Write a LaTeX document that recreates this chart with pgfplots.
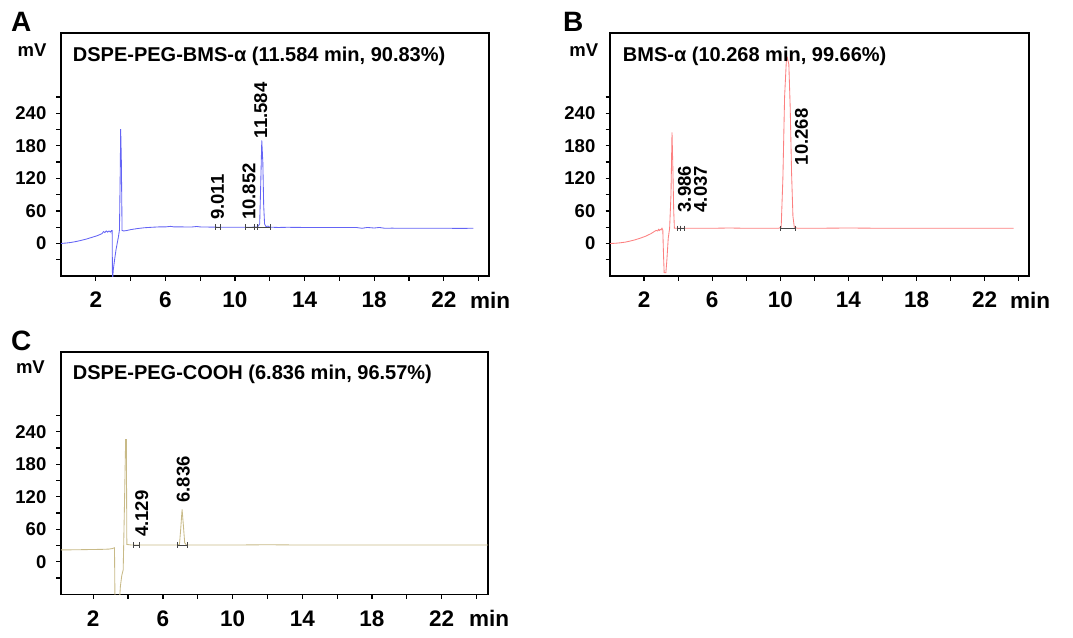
\documentclass[border=0pt]{standalone}
\usepackage{pgfplots}
\pgfplotsset{compat=1.18}
\usepackage{fontspec}
\setmainfont{Liberation Sans}
\definecolor{cA}{RGB}{100,100,245}
\definecolor{cB}{RGB}{252,128,128}
\definecolor{cC}{RGB}{200,186,135}
\definecolor{mk}{RGB}{70,70,70}
\pgfplotsset{
  chrom/.style={
    scale only axis, width=428pt, height=243pt,
    ymin=-60, ymax=388, xmin=0, xmax=24.6,
    xtick={2,6,...,22}, minor xtick={4,8,...,24},
    ytick={0,60,...,240}, minor ytick={-30,30,...,270},
    tick align=outside, xtick pos=bottom, ytick pos=left,
    major tick length=4.5pt, minor tick length=4.5pt,
    tick style={black, line width=1.2pt},
    axis line style={line width=1.6pt},
    /pgf/number format/assume math mode=true,
    xticklabel style={font=\fontsize{22.5}{24}\selectfont\bfseries, inner sep=0pt, text height=16pt, anchor=north, yshift=-11pt},
    yticklabel style={font=\fontsize{18.5}{20}\selectfont\bfseries, inner sep=0pt, anchor=east, xshift=-10pt},
    clip mode=individual,
  },
}
\tikzset{
  trace/.style={line width=0.85pt},
  integ/.style={mk, line width=0.9pt, mark=|, mark size=2.7pt, mark options={line width=0.9pt}},
  pk/.style={font=\fontsize{18.5}{20}\selectfont\bfseries, rotate=90, anchor=west, inner sep=0pt},
  ttl/.style={font=\fontsize{20}{22}\selectfont\bfseries, anchor=base west, inner sep=0pt},
  mv/.style={font=\fontsize{18.5}{20}\selectfont\bfseries, anchor=base east, inner sep=0pt},
  let/.style={font=\fontsize{28}{30}\selectfont\bfseries, anchor=base west, inner sep=0pt},
  minl/.style={font=\fontsize{22.5}{24}\selectfont\bfseries, anchor=north west, inner sep=0pt, text height=16pt},
}
\begin{document}
\begin{tikzpicture}
\useasboundingbox (0pt,0pt) rectangle (1073pt,-637pt);
% ---------- A ----------
\begin{axis}[chrom, at={(61pt,-276pt)}, anchor=south west]
\addplot[trace, cA] coordinates {
(0,0) (0.3,0.8) (0.6,2) (0.9,3.8) (1.2,6) (1.5,8.5) (1.8,11.5) (2.1,14.5) (2.35,18)
(2.45,22) (2.52,20) (2.6,23) (2.68,21) (2.76,23) (2.84,21) (2.9,24) (2.94,24)
(2.96,-75) (3.0,-50) (3.08,-30) (3.16,-12) (3.24,2) (3.3,12) (3.36,25) (3.40,120)
(3.43,211) (3.47,150) (3.51,24) (3.6,23) (3.8,24) (4.0,25.5) (4.4,27.5) (4.8,29)
(5.2,29.8) (5.6,30.5) (6.0,30.5) (6.3,31.5) (6.5,30.5) (7,30.5) (7.5,30.3) (7.8,31.3)
(8,30.5) (8.5,30.2) (9,30) (9.5,30) (10,30) (10.5,29.8) (11,30) (11.3,30.5) (11.42,36)
(11.48,110) (11.54,190) (11.60,150) (11.65,70) (11.70,36) (11.78,31) (11.9,32) (12.0,30)
(12.5,29.5) (13,29.8) (14,29.5) (15,29.5) (16,29.3) (17,29.3) (17.3,28) (17.6,29.5)
(18.0,28.5) (18.3,29.5) (18.6,28) (19,28.2) (20,28) (21,28) (22,28) (23,27.8) (23.7,28)};
\addplot[integ] coordinates {(8.85,30) (9.15,30)};
\addplot[integ] coordinates {(10.62,30) (11.1,30)};
\addplot[integ] coordinates {(11.1,30) (11.29,30)};
\addplot[integ] coordinates {(11.29,30) (12.06,30)};
\node[pk] at (axis cs:9.0,43) {9.011};
\node[pk] at (axis cs:10.81,43) {10.852};
\node[pk] at (axis cs:11.48,194) {11.584};
\node[ttl] at (rel axis cs:0,1) [xshift=11.7pt, yshift=-28pt] {DSPE-PEG-BMS-α (11.584 min, 90.83\%)};
\node[mv] at (rel axis cs:0,1) [xshift=-14.3pt, yshift=-23pt] {mV};
\node[let] at (rel axis cs:0,1) [xshift=-50pt, yshift=1.3pt] {A};
\node[minl] at (rel axis cs:1,0) [xshift=-19pt, yshift=-16pt] {min};
\end{axis}
% ---------- B ----------
\begin{axis}[chrom, width=419pt, at={(610pt,-276pt)}, anchor=south west]
\addplot[trace, cB] coordinates {
(0,0) (0.3,0.3) (0.6,1.2) (0.9,2.5) (1.2,4.5) (1.5,7) (1.8,10) (2.1,13.5) (2.4,18)
(2.6,22) (2.7,24) (2.8,23) (2.85,26) (2.9,24) (2.95,26) (3.0,25) (3.05,28) (3.1,25)
(3.14,-20) (3.18,-54) (3.28,-54) (3.34,-30) (3.42,10) (3.5,28) (3.58,90) (3.64,205)
(3.69,140) (3.74,60) (3.78,28) (4,28) (5,28) (6,28) (7,28.5) (8,28) (9,28) (9.9,28)
(10.05,30) (10.15,120) (10.25,270) (10.35,335) (10.42,342) (10.5,330) (10.58,250)
(10.66,130) (10.74,50) (10.82,30) (11,28) (12,28) (14,28.5) (16,28) (18,28) (20,28)
(22,28) (23.7,28)};
\addplot[integ] coordinates {(3.96,28) (4.15,28)};
\addplot[integ] coordinates {(4.15,28) (4.35,28)};
\addplot[integ] coordinates {(10.0,28) (10.9,28)};
\node[pk] at (axis cs:4.38,57) {3.986};
\node[pk] at (axis cs:5.32,57) {4.037};
\node[pk] at (axis cs:11.25,144) {10.268};
\node[ttl] at (rel axis cs:0,1) [xshift=12.7pt, yshift=-28pt] {BMS-α (10.268 min, 99.66\%)};
\node[mv] at (rel axis cs:0,1) [xshift=-11.7pt, yshift=-23pt] {mV};
\node[let] at (rel axis cs:0,1) [xshift=-47pt, yshift=1.3pt] {B};
\node[minl] at (rel axis cs:1,0) [xshift=-19pt, yshift=-16pt] {min};
\end{axis}
% ---------- C ----------
\begin{axis}[chrom, width=427pt, height=242.6pt, xmin=0.15, xmax=24.66, at={(61pt,-594.3pt)}, anchor=south west]
\addplot[trace, cC] coordinates {
(0.15,22) (0.5,22) (1,22.3) (1.5,22.5) (2,22.8) (2.5,23) (2.9,23.5) (3.1,24.5)
(3.22,26) (3.25,-75) (3.5,-75) (3.56,-45) (3.64,-25) (3.72,-15) (3.79,100) (3.86,226)
(3.9,226) (3.93,32) (4.2,31) (5,31) (6,31) (6.8,31) (6.95,32) (7.02,60) (7.1,97)
(7.18,65) (7.25,35) (7.35,31) (8,31) (10,31) (12,31.5) (14,31) (16,31) (18,31)
(20,31) (22,31) (24.66,31)};
\addplot[integ] coordinates {(4.3,31) (4.64,31)};
\addplot[integ] coordinates {(6.85,31) (7.4,31)};
\node[pk] at (axis cs:4.78,45.6) {4.129};
\node[pk] at (axis cs:7.17,109) {6.836};
\node[ttl] at (rel axis cs:0,1) [xshift=11.7pt, yshift=-27.6pt] {DSPE-PEG-COOH (6.836 min, 96.57\%)};
\node[mv] at (rel axis cs:0,1) [xshift=-16pt, yshift=-21.6pt] {mV};
\node[let] at (rel axis cs:0,1) [xshift=-50pt, yshift=1.7pt] {C};
\node[minl] at (rel axis cs:1,0) [xshift=-19pt, yshift=-16pt] {min};
\end{axis}
\end{tikzpicture}
\end{document}
